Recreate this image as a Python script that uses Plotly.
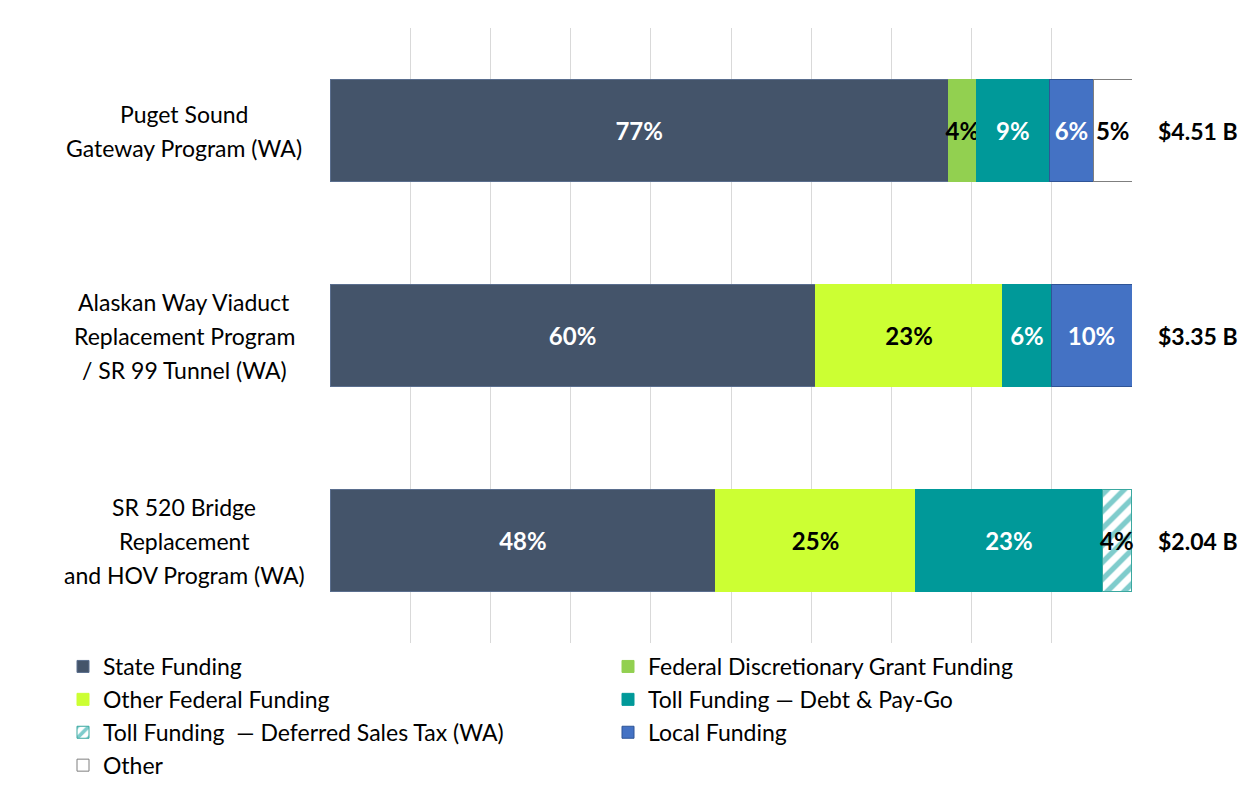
import plotly.graph_objects as go

project_keys = ["Puget", "Alaskan", "SR520"]
project_lines = [["Puget Sound", "Gateway Program (WA)"],
                 ["Alaskan Way Viaduct", "Replacement Program", "/ SR 99 Tunnel (WA)"],
                 ["SR 520 Bridge", "Replacement", "and HOV Program (WA)"]]
totals = ["$4.51 B", "$3.35 B", "$2.04 B"]

state_funding = [77.1, 60.5, 48.1]
federal_discretionary = [3.5, None, None]
other_federal = [None, 23.4, 24.9]
toll_debt_paygo = [9.1, 6.0, 23.3]
toll_deferred_tax = [None, None, 3.6]
local_funding = [5.5, 10.1, None]
other_funding = [4.8, None, None]

FONT = "Lato"
OFF = 8  # page body margin in the browser
W, H = 1248 - 2 * OFF, 786 - 2 * OFF
ML, MR, MT, MB = 10, 10, 10, 4
PW, PH = W - ML - MR, H - MT - MB
# plot area in window pixels
X0, X1, Y0, Y1 = 330, 1132, 28, 643

def px_x(p):
    return (p - OFF - ML) / PW

def px_y(p):
    return (H - MB - (p - OFF)) / PH

series = [
    ("State Funding", state_funding, "#44546A", "#5a6e8e", "white", None),
    ("Federal Discretionary Grant Funding", federal_discretionary, "#92D050", "#92D050", "black", None),
    ("Other Federal Funding", other_federal, "#CCFF33", "#CCFF33", "black", None),
    ("Toll Funding — Debt & Pay-Go", toll_debt_paygo, "#009999", "#009999", "white", None),
    ("Toll Funding  — Deferred Sales Tax (WA)", toll_deferred_tax, "white", "#3aa8a0", "black", "/"),
    ("Local Funding", local_funding, "#4472C4", "#2F5597", "white", None),
    ("Other", other_funding, "white", "#7F7F7F", "black", None),
]

def label(v):
    return "" if v is None else f"{round(v)}%"

fig = go.Figure()
for name, vals, color, lcolor, tcolor, pattern in series:
    marker = dict(color=color, line=dict(color=lcolor, width=1))
    if pattern:
        marker["pattern"] = dict(shape=pattern, fgcolor="#009999", bgcolor="white",
                                 size=12, solidity=0.45)
    fig.add_trace(go.Bar(
        y=project_keys, x=vals, name=name, orientation="h",
        marker=marker,
        text=[label(v) for v in vals],
        textposition="inside", insidetextanchor="middle", textangle=0,
        textfont=dict(family=FONT, size=24, color=tcolor, weight="bold"),
        cliponaxis=False,
    ))

fig.update_layout(
    barmode="stack",
    bargap=0.5,
    width=W, height=H,
    margin=dict(l=ML, r=MR, t=MT, b=MB, autoexpand=False),
    paper_bgcolor="white", plot_bgcolor="white",
    font=dict(family=FONT, size=23, color="black"),
    uniformtext=dict(mode="show", minsize=24),
    showlegend=True,
    legend=dict(orientation="h", x=px_x(63), xanchor="left", y=px_y(645), yanchor="top",
                entrywidth=500, entrywidthmode="pixels", traceorder="normal",
                font=dict(family=FONT, size=23, color="black"),
                itemwidth=30, bgcolor="rgba(0,0,0,0)"),
    xaxis=dict(domain=[px_x(X0), px_x(X1)], range=[0, 100], dtick=10, showgrid=True,
               gridcolor="#D9D9D9", gridwidth=1,
               showticklabels=False, zeroline=False, showline=False, fixedrange=True),
    yaxis=dict(domain=[px_y(Y1), px_y(Y0)], autorange="reversed", showticklabels=False,
               showgrid=False, zeroline=False, showline=False),
)

LINE_H = 34
for key, lines, tot in zip(project_keys, project_lines, totals):
    n = len(lines)
    for i, ln in enumerate(lines):
        shift = ((n - 1) / 2 - i) * LINE_H
        fig.add_annotation(x=px_x(184), xref="paper", y=key, yref="y", text=ln,
                           showarrow=False, xanchor="center", yanchor="middle",
                           yshift=shift, font=dict(family=FONT, size=23, color="black"))
    fig.add_annotation(x=px_x(X1), xref="paper", y=key, yref="y", text=f"<b>{tot}</b>",
                       showarrow=False, xanchor="left", xshift=24,
                       font=dict(family=FONT, size=23, color="black"))

fig.write_html("out.html")
